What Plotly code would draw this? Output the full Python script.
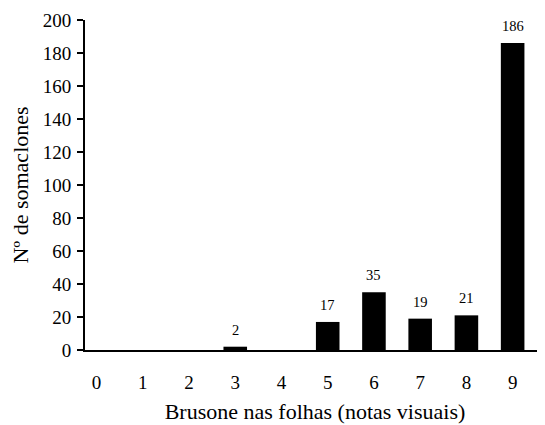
import plotly.graph_objects as go

categories = [0, 1, 2, 3, 4, 5, 6, 7, 8, 9]
values = [0, 0, 0, 2, 0, 17, 35, 19, 21, 186]
labels = ["", "", "", "2", "", "17", "35", "19", "21", "186"]
tick_vals = [0, 20, 40, 60, 80, 100, 120, 140, 160, 180, 200]

font = "Liberation Serif"

fig = go.Figure(go.Bar(
    x=categories, y=values, width=0.51,
    marker=dict(color="black", line=dict(width=0)),
    cliponaxis=False,
))

for c, v, t in zip(categories, values, labels):
    if t:
        fig.add_annotation(
            x=c, y=v, text=t, showarrow=False,
            xanchor="center", yanchor="bottom", yshift=7,
            font=dict(family=font, size=14.5, color="black"),
        )

# page body has an 8px default margin, so the figure is sized 8px smaller
fig.update_layout(
    width=537, height=417,
    margin=dict(l=77, r=0, t=12, b=75, autoexpand=False),
    paper_bgcolor="white", plot_bgcolor="white",
    showlegend=False,
    font=dict(family=font, color="black"),
    xaxis=dict(
        range=[-0.25, 9.7], tickmode="array", tickvals=categories,
        showline=True, linecolor="black", linewidth=2,
        ticks="", showgrid=False, zeroline=False, automargin=False,
        tickfont=dict(size=19), ticklabelstandoff=14,
        title=dict(text="Brusone nas folhas (notas visuais)", font=dict(size=22), standoff=12),
    ),
    yaxis=dict(
        range=[0, 200], tickmode="array", tickvals=tick_vals,
        showline=True, linecolor="black", linewidth=2,
        ticks="outside", ticklen=6, tickwidth=1.5, tickcolor="black",
        showgrid=False, zeroline=False, automargin=False,
        tickfont=dict(size=19), ticklabelstandoff=2,
        title=dict(text="Nº de somaclones", font=dict(size=22), standoff=10),
    ),
)

fig.write_html("out.html")
